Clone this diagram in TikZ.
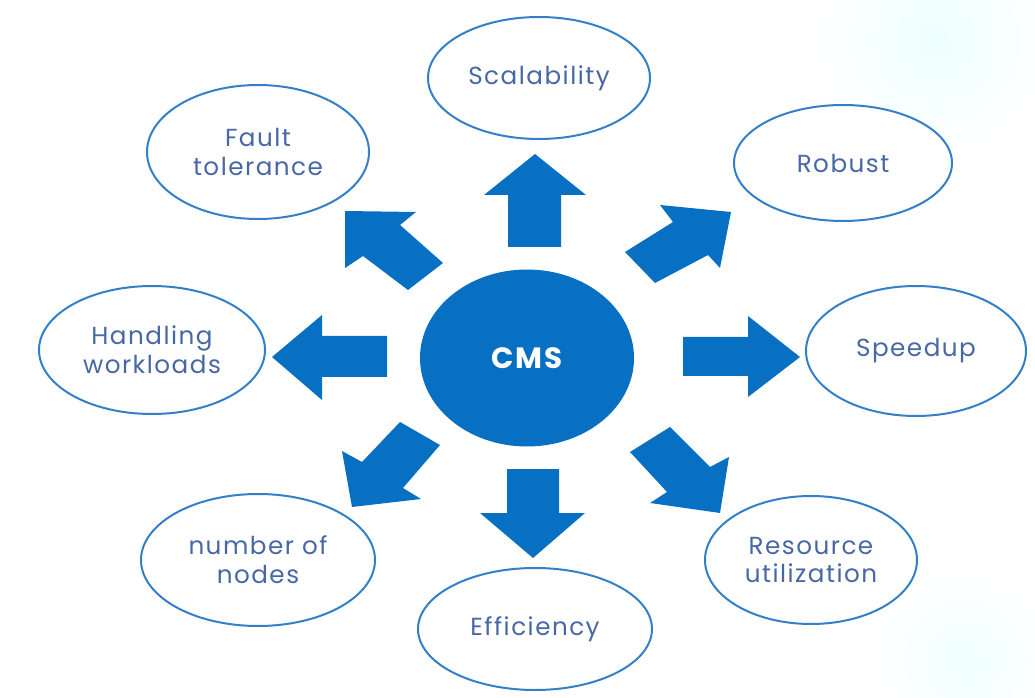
\documentclass[tikz,border=0pt]{standalone}
\usepackage{fontspec}
\setmainfont{Poppins}[LetterSpace=6]
\newfontfamily\cmsfont{Poppins}[LetterSpace=5]
\usetikzlibrary{shapes.geometric}
\definecolor{arrowblue}{RGB}{8,112,194}
\definecolor{edgeblue}{RGB}{52,128,200}
\definecolor{textblue}{RGB}{72,104,165}
\begin{document}
\begin{tikzpicture}[x=0.75pt,y=-0.75pt,
  bubble/.style={ellipse, draw=edgeblue, line width=1.5pt, fill=white,
    text=textblue, align=center, inner sep=0pt,
    font=\fontsize{18.5}{21.5}\selectfont},
  bsize/.style 2 args={minimum width=#1*0.75pt, minimum height=#2*0.75pt},
  blockarrow/.style={fill=arrowblue}]
\useasboundingbox (0,0) rectangle (1035,698);
\fill[white] (0,0) rectangle (1035,698);
\shade[inner color=cyan!7, outer color=white] (935,40) circle (120);
\shade[inner color=cyan!6, outer color=white] (965,660) circle (90);

% centre
\node[ellipse, fill=arrowblue, text=white, bsize={214}{177},
  font=\cmsfont\fontsize{22}{26}\selectfont\bfseries] (cms) at (527,358) {CMS};

% outer bubbles
\node[bubble, bsize={222}{122}] (scal) at (539,78) {Scalability};
\node[bubble, bsize={222}{134}] (fault) at (258,152) {Fault\\tolerance};
\node[bubble, bsize={218}{116}] (robust) at (843,163) {Robust};
\node[bubble, bsize={220}{130}] (speed) at (916,351) {Speedup};
\node[bubble, bsize={212}{128}] (res) at (811,560) {Resource\\utilization};
\node[bubble, bsize={234}{122}] (eff) at (535,629) {Efficiency};
\node[bubble, bsize={234}{132}] (nodes) at (258,560) {number of\\nodes};
\node[bubble, bsize={226}{128}] (hand) at (152,350) {Handling\\workloads};

% block arrows
\fill[blockarrow] (508,247) -- (508,195) -- (484,195) -- (535,154) -- (586,195) -- (561,195) -- (561,247) -- cycle;
\fill[blockarrow] (507,469) -- (559,469) -- (559,513) -- (585,513) -- (533,558) -- (480,513) -- (507,513) -- cycle;
\fill[blockarrow] (387,336) -- (322,336) -- (322,315) -- (272,357) -- (322,400) -- (322,377) -- (387,377) -- cycle;
\fill[blockarrow] (683,337) -- (748,337) -- (748,316) -- (800,357) -- (748,397) -- (748,376) -- (683,376) -- cycle;
\fill[blockarrow] (345,211) -- (416,212) -- (400,225) -- (443,263) -- (408,290) -- (363,256) -- (345,268) -- cycle;
\fill[blockarrow] (731,212) -- (720,268) -- (708,255) -- (655,283) -- (625,252) -- (673,222) -- (660,205) -- cycle;
\fill[blockarrow] (630,452) -- (670,427) -- (710,467) -- (729,457) -- (720,513) -- (650,503) -- (667,492) -- cycle;
\fill[blockarrow] (400,422) -- (440,445) -- (403,488) -- (421,499) -- (352,507) -- (342,451) -- (362,462) -- cycle;
\end{tikzpicture}
\end{document}
